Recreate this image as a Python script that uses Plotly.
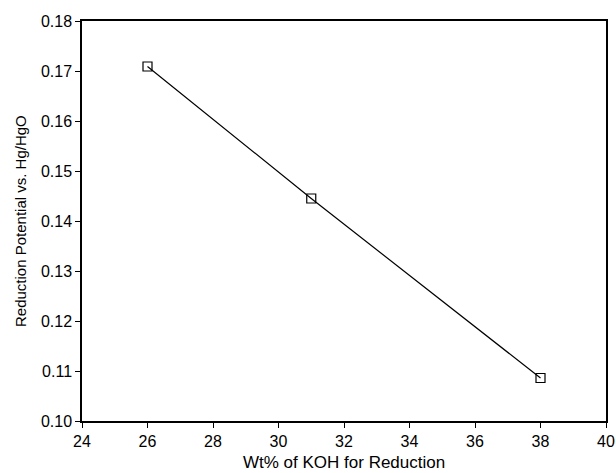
import plotly.graph_objects as go

koh_wt = [26, 31, 38]
potential = [0.1709, 0.1445, 0.1086]
x_ticks = [24, 26, 28, 30, 32, 34, 36, 38, 40]
y_ticks = [0.10, 0.11, 0.12, 0.13, 0.14, 0.15, 0.16, 0.17, 0.18]
x_title = "Wt% of KOH for Reduction"
y_title = "Reduction Potential vs. Hg/HgO"

fig = go.Figure()
fig.add_trace(go.Scatter(
    x=koh_wt, y=potential, mode="lines+markers",
    line=dict(color="black", width=1.2),
    marker=dict(symbol="square-open", size=9, color="black", line=dict(width=1.2)),
    showlegend=False, cliponaxis=False,
))

fam = "Liberation Sans, Arial, sans-serif"
font = dict(family=fam, size=16, color="black")
axis_common = dict(
    showgrid=False, zeroline=False, showline=True, linecolor="black", linewidth=1.5,
    mirror=True, ticks="outside", ticklen=5, tickwidth=1.2, tickcolor="black",
    tickfont=font, automargin=False,
)
fig.update_xaxes(range=[24, 40], tickvals=x_ticks, ticktext=[str(v) for v in x_ticks], **axis_common)
fig.update_yaxes(range=[0.10, 0.18], tickvals=y_ticks, ticktext=[f"{v:.2f}" for v in y_ticks], **axis_common)

fig.add_annotation(text=x_title, xref="paper", yref="paper", x=0.5, y=0,
                   yshift=-41, xanchor="center", yanchor="middle", showarrow=False,
                   font=dict(family=fam, size=17, color="black"))
fig.add_annotation(text=y_title, xref="paper", yref="paper", x=0, y=0.5,
                   xshift=-62, xanchor="center", yanchor="middle", showarrow=False,
                   textangle=-90, font=dict(family=fam, size=15, color="black"))

fig.update_layout(
    width=616, height=473,
    margin=dict(l=82, r=10, t=21, b=52),
    plot_bgcolor="white", paper_bgcolor="white",
)
fig.write_html("out.html")
